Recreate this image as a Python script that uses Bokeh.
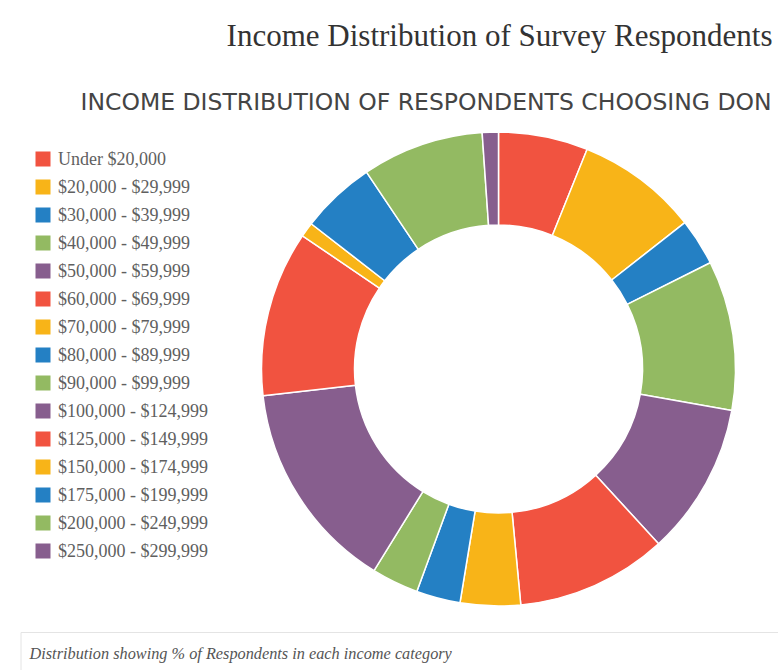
import numpy as np
from bokeh.plotting import figure
from bokeh.models import ColumnDataSource, Range1d, Label
from bokeh.embed import file_html
from bokeh.resources import INLINE
from bokeh.core.properties import value

# ---- data ----
categories = [
    "Under $20,000", "$20,000 - $29,999", "$30,000 - $39,999", "$40,000 - $49,999",
    "$50,000 - $59,999", "$60,000 - $69,999", "$70,000 - $79,999", "$80,000 - $89,999",
    "$90,000 - $99,999", "$100,000 - $124,999", "$125,000 - $149,999", "$150,000 - $174,999",
    "$175,000 - $199,999", "$200,000 - $249,999", "$250,000 - $299,999",
]
percents = [6.1, 8.3, 3.2, 10.2, 10.4, 10.3, 4.1, 3.0, 3.2, 14.4, 11.3, 1.0, 5.1, 8.3, 1.1]
palette = ["#F15340", "#F8B418", "#2480C4", "#93BA62", "#875E8E"]
colors = [palette[i % 5] for i in range(len(categories))]

title_text = "Income Distribution of Survey Respondents"
subtitle_text = "INCOME DISTRIBUTION OF RESPONDENTS CHOOSING DON"
footer_text = "Distribution showing % of Respondents in each income category"

# ---- figure ----
W, H = 778, 670
p = figure(width=W, height=H, x_range=Range1d(0, W), y_range=Range1d(0, H),
           output_backend="svg", toolbar_location=None,
           x_axis_location=None, y_axis_location=None, min_border=0,
           outline_line_color=None)
p.grid.grid_line_color = None
p.background_fill_color = "white"
p.border_fill_color = "white"

vals = np.array(percents, dtype=float)
frac = vals / vals.sum() * 2 * np.pi
ends = np.cumsum(frac)
starts = ends - frac
src = ColumnDataSource(dict(
    cat=categories, color=colors,
    start=np.pi / 2 - starts, end=np.pi / 2 - ends,
))
cx, cy = 498, 301.5
p.annular_wedge(x=cx, y=cy, inner_radius=144, outer_radius=237,
                start_angle="start", end_angle="end", direction="clock",
                fill_color="color", line_color="white", line_width=1.5, source=src)

# ---- legend ----
n = len(categories)
idx = np.arange(n)
leg = ColumnDataSource(dict(
    cat=categories, color=colors,
    sy=511.5 - 28 * idx, ty=511.7 - 28 * idx,
))
p.rect(x=42.5, y="sy", width=15, height=15, fill_color="color", line_color=None, source=leg)
p.text(x=57.5, y="ty", text="cat", text_font=value("Liberation Serif"),
       text_font_size="18px", text_color="#5f5f5f", text_baseline="alphabetic",
       text_align="left", source=leg)

# ---- texts ----
p.add_layout(Label(x=772, y=635.5, text=title_text, text_align="right",
                   text_baseline="alphabetic", text_font="Liberation Serif",
                   text_font_size="31px", text_color="#333333"))
p.add_layout(Label(x=80, y=568.5, text=subtitle_text, text_align="left",
                   text_baseline="alphabetic", text_font="DejaVu Sans",
                   text_font_size="23.5px", text_color="#444444"))

# footer box
p.quad(left=[20.5], right=[900], top=[38], bottom=[-100], fill_color=None,
       line_color="#e4e4e4", line_width=1)
p.add_layout(Label(x=29, y=17.3, text=footer_text, text_align="left",
                   text_baseline="alphabetic", text_font="Liberation Serif",
                   text_font_style="italic", text_font_size="16.3px",
                   text_color="#555555"))

open("out.html", "w").write(file_html(p, INLINE))
